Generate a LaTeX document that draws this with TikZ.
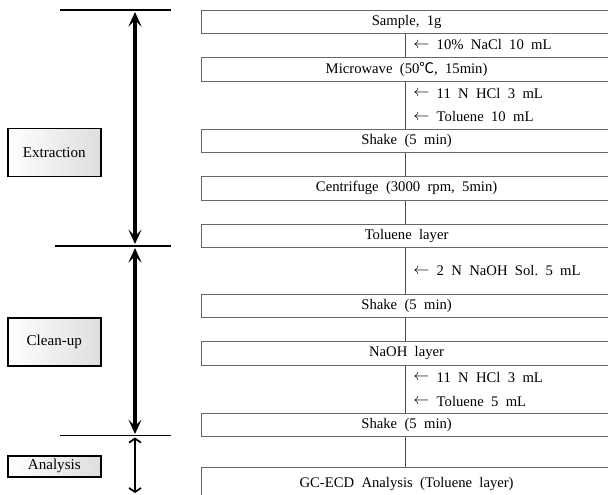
\documentclass[tikz,border=0pt]{standalone}
\usepackage{fontspec}
\setmainfont{Liberation Serif}
\newfontfamily\cjk{Noto Sans CJK KR}
\usetikzlibrary{arrows.meta}
\newcommand{\larr}{\raisebox{0.2ex}{\resizebox{1.1em}{!}{$\leftarrow$}}}
\begin{document}
\begin{tikzpicture}[x=0.75pt,y=-0.75pt,
  stepbox/.style={draw=black!60,line width=0.9pt,minimum width=410*0.75pt,minimum height=23.5*0.75pt,anchor=north west,inner sep=0pt,font=\fontsize{11pt}{13pt}\selectfont},
  phasebox/.style={draw=black,line width=1.2pt,left color=white,right color=black!13,anchor=north west,inner sep=0pt,font=\fontsize{11.3pt}{13pt}\selectfont,minimum width=93*0.75pt},
  addlbl/.style={anchor=west,inner sep=0pt,font=\fontsize{11pt}{13pt}\selectfont},
  flow/.style={draw=black!70,line width=0.6pt},
  sep/.style={line width=1.3pt},
  bigtip/.tip={Stealth[length=11pt,width=10pt,inset=5pt,line width=0pt]},
  smalltip/.tip={Straight Barb[length=3pt,width=9pt]}
]
\useasboundingbox (0,0) rectangle (608,494);
\begin{scope}
\clip (0,0) rectangle (608,494);
% flow line
\coordinate (ftop) at (405.7,33);
\coordinate (fbot) at (405.7,467);
\draw[flow] (ftop) -- (fbot);
% boxes
\node[stepbox,fill=white] (b1) at (201,9.5) {Sample,\ \ 1g};
\node[stepbox,fill=white] (b2) at (201,57) {Microwave\ \ (50{\cjk ℃},\ \ 15min)};
\node[stepbox,fill=white] (b3) at (201,128.5) {Shake\ \ (5\ \ min)};
\node[stepbox,fill=white] (b4) at (201,176) {Centrifuge\ \ (3000\ \ rpm,\ \ 5min)};
\node[stepbox,fill=white] (b5) at (201,223.5) {Toluene\ \ layer};
\node[stepbox,fill=white] (b6) at (201,293.5) {Shake\ \ (5\ \ min)};
\node[stepbox,fill=white] (b7) at (201,341) {NaOH\ \ layer};
\node[stepbox,fill=white] (b8) at (201,412.5) {Shake\ \ (5\ \ min)};
\node[stepbox,fill=white,minimum height=32*0.75pt] (b9) at (201,467) {GC-ECD\ \ Analysis\ \ (Toluene\ \ layer)};
\end{scope}
% additions
\node[addlbl] (a1) at (413,45) {\larr\ \ 10\%\ \ NaCl\ \ 10\ \ mL};
\node[addlbl] (a2) at (413,93) {\larr\ \ 11\ \ N\ \ HCl\ \ 3\ \ mL};
\node[addlbl] (a3) at (413,116.5) {\larr\ \ Toluene\ \ 10\ \ mL};
\node[addlbl] (a4) at (413,271) {\larr\ \ 2\ \ N\ \ NaOH\ \ Sol.\ \ 5\ \ mL};
\node[addlbl] (a5) at (413,377) {\larr\ \ 11\ \ N\ \ HCl\ \ 3\ \ mL};
\node[addlbl] (a6) at (413,401) {\larr\ \ Toluene\ \ 5\ \ mL};
% separators
\coordinate (s1l) at (60,10); \coordinate (s1r) at (171,10);
\coordinate (s2l) at (55,246); \coordinate (s2r) at (171,246);
\coordinate (s3l) at (60,435.5); \coordinate (s3r) at (171,435.5);
\draw[sep] (s1l) -- (s1r);
\draw[sep] (s2l) -- (s2r);
\draw[sep] (s3l) -- (s3r);
% phase arrows
\coordinate (p1t) at (135,12); \coordinate (p1b) at (135,244);
\coordinate (p2t) at (135,248); \coordinate (p2b) at (135,434);
\coordinate (p3t) at (135,437.5); \coordinate (p3b) at (135,493);
\draw[line width=2.4pt,bigtip-bigtip] (p1t) -- (p1b);
\draw[line width=2.4pt,bigtip-bigtip] (p2t) -- (p2b);
\draw[line width=1.3pt,smalltip-smalltip] (p3t) -- (p3b);
% phase boxes
\node[phasebox,minimum height=48*0.75pt] (ext) at (7,127.5) {Extraction};
\node[phasebox,minimum height=48*0.75pt] (cln) at (7,317) {Clean-up};
\node[phasebox,minimum height=21*0.75pt] (ana) at (7,455) {Analysis};
\end{tikzpicture}
\end{document}
